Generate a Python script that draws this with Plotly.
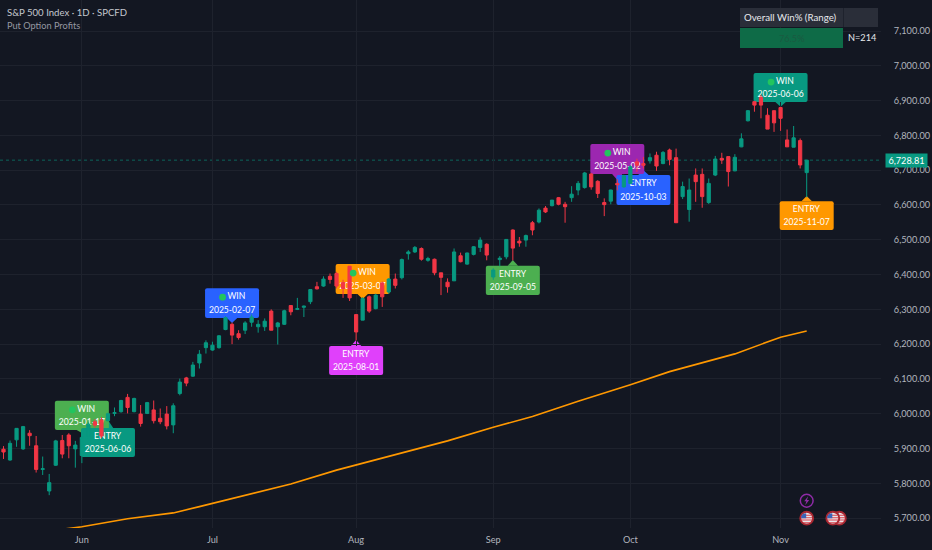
import pandas as pd
import plotly.graph_objects as go

FONT = "Lato"
BG = "#131722"
GRID = "#1e222d"
UP = "#089981"
DOWN = "#F23645"

# Trading days shown (the last few are the empty space on the right)
holidays = ["2025-05-26", "2025-06-19", "2025-07-04", "2025-09-01"]
days = [d.strftime("%Y-%m-%d") for d in pd.bdate_range("2025-05-14", "2025-11-14")
        if d.strftime("%Y-%m-%d") not in holidays]

opens = [5898,5867,5925,5899,5944,5908,5840,5778,5852,5923,5939,5899,5880,5935,5977,5982,5980,6001,6006,6047,
         6006,5999,6001,6011,5987,5999,5968,6058,6103,6108,6146,6190,6183,6190,6242,6257,6230,6240,6263,6250,
         6250,6295,6250,6257,6311,6300,6306,6322,6365,6367,6395,6403,6377,6424,6285,6269,6336,6302,6376,6350,
         6387,6391,6460,6465,6475,6441,6444,6405,6378,6382,6454,6430,6458,6478,6487,6393,6443,6451,6528,6496,
         6499,6549,6551,6591,6598,6621,6602,6621,6643,6650,6689,6668,6607,6611,6662,6652,6662,6724,6719,6727,
         6743,6719,6758,6736,6624,6587,6686,6688,6607,6686,6734,6739,6698,6767,6842,6897,6909,6858,6871,6880,
         6787,6766,6785,6693]
closes = [5890,5915,5958,5963,5937,5840,5842,5802,5922,5884,5908,5910,5932,5970,5967,5936,6000,6003,6038,6018,
          6044,5972,6032,5980,5977,5965,6023,6091,6088,6140,6171,6204,6197,6224,6276,6226,6219,6261,6278,6257,
          6266,6240,6261,6296,6293,6302,6309,6357,6359,6387,6386,6367,6360,6333,6235,6331,6295,6341,6336,6387,
          6369,6443,6465,6478,6444,6446,6405,6392,6365,6465,6437,6462,6480,6499,6456,6413,6447,6501,6476,6491,
          6512,6528,6585,6580,6614,6602,6595,6631,6662,6692,6652,6633,6601,6643,6658,6684,6710,6714,6714,6736,
          6712,6751,6731,6549,6653,6643,6667,6624,6662,6732,6729,6696,6737,6790,6871,6887,6887,6818,6836,6849,
          6767,6793,6715,6728.81]
highs = [5907,5923,5958,5965,5953,5936,5877,5827,5925,5939,5944,5922,5935,5975,5985,5990,6003,6018,6040,6057,
         6046,6025,6034,6038,6015,6022,6030,6101,6106,6149,6183,6211,6207,6226,6280,6262,6240,6266,6285,6269,
         6274,6300,6264,6299,6311,6333,6311,6357,6379,6395,6403,6408,6385,6424,6285,6335,6340,6345,6380,6390,
         6403,6446,6470,6482,6478,6451,6446,6405,6389,6475,6463,6463,6482,6507,6490,6418,6453,6501,6530,6508,
         6515,6554,6590,6597,6614,6623,6609,6654,6669,6695,6692,6671,6619,6644,6674,6687,6714,6733,6738,6748,
         6753,6755,6762,6762,6667,6676,6705,6705,6676,6741,6750,6739,6746,6806,6873,6897,6916,6878,6871,6882,
         6817,6827,6791,6728.81]
lows = [5870,5865,5905,5896,5908,5831,5824,5766,5850,5872,5872,5845,5858,5930,5960,5930,5978,5993,6003,6001,
        6004,5963,5999,5972,5970,5955,5944,6053,6079,6106,6130,6173,6181,6187,6240,6200,6213,6229,6250,6233,
        6238,6240,6199,6255,6283,6298,6278,6315,6357,6365,6374,6360,6333,6324,6211,6269,6290,6300,6307,6345,
        6360,6386,6443,6462,6440,6437,6398,6341,6348,6382,6435,6428,6455,6465,6441,6385,6424,6444,6441,6480,
        6480,6513,6547,6577,6596,6599,6549,6609,6628,6647,6644,6620,6568,6602,6642,6650,6660,6695,6705,6719,
        6698,6717,6714,6549,6617,6552,6609,6592,6603,6683,6718,6653,6697,6766,6840,6868,6849,6818,6810,6813,
        6767,6766,6705,6622]

# 200-day average, read at a handful of dates
sma_days = ["2025-05-28","2025-06-02","2025-06-11","2025-06-23","2025-06-27","2025-07-11","2025-07-18",
            "2025-07-29","2025-08-08","2025-08-21","2025-09-02","2025-09-10","2025-09-19","2025-10-01",
            "2025-10-09","2025-10-23","2025-11-03","2025-11-07"]
sma_vals = [5668,5675,5698,5715,5733,5775,5798,5838,5877,5922,5961,5992,6036,6083,6121,6172,6220,6238]

# Callout labels
label_days  = ["2025-06-02","2025-06-06","2025-07-07","2025-08-04","2025-08-01",
               "2025-09-05","2025-09-29","2025-10-03","2025-11-03","2025-11-07"]
label_kind  = ["WIN","ENTRY","WIN","WIN","ENTRY","ENTRY","WIN","ENTRY","WIN","ENTRY"]
label_dates = ["2025-01-17","2025-06-06","2025-02-07","2025-03-07","2025-08-01",
               "2025-09-05","2025-05-02","2025-10-03","2025-06-06","2025-11-07"]
label_top   = [6037,5959,6361,6430,6195,6425,6775,6686,6979,6611]
label_bot   = [5953,5876,6275,6344,6111,6341,6689,6600,6896,6528]
label_tip   = [5945,5982,6261,6330,6212,6442,6672,6700,6882,6626]
label_col   = ["#4CAF50","#089981","#2962FF","#FF9800","#E040FB",
               "#4CAF50","#9C27B0","#2962FF","#089981","#FF9800"]

ticks_x = ["2025-06-02","2025-07-01","2025-08-01","2025-09-02","2025-10-01","2025-11-03"]
ticks_x_text = ["Jun","Jul","Aug","Sep","Oct","Nov"]
ticks_y = [5700,5800,5900,6000,6100,6200,6300,6400,6500,6600,6700,6800,6900,7000,7100]
last_price = 6728.81

PLOT_W, PLOT_H = 881, 528
px = lambda v: v / PLOT_W
py = lambda v: (PLOT_H - v) / PLOT_H

heads = ["\u00a0\u00a0\u00a0\u00a0" + k if k == "WIN" else k for k in label_kind]

LABEL_SIZE = 8.6
TEXT_SIZE = 9.2

fig = go.Figure()
fig.add_bar(x=label_days, base=label_bot, y=[t - b for t, b in zip(label_top, label_bot)],
            width=8.27, marker=dict(color=label_col, line_width=0, cornerradius=2),
            text=heads, textposition="inside", insidetextanchor="end", textangle=0,
            constraintext="none", insidetextfont=dict(family=FONT, size=LABEL_SIZE, color="#ffffff"),
            cliponaxis=False, hoverinfo="skip", showlegend=False)
fig.add_bar(x=label_days, base=label_bot, y=[t - b for t, b in zip(label_top, label_bot)],
            width=8.27, marker=dict(color="rgba(0,0,0,0)", line_width=0),
            text=label_dates, textposition="inside", insidetextanchor="start", textangle=0,
            constraintext="none", insidetextfont=dict(family=FONT, size=LABEL_SIZE, color="#ffffff"),
            cliponaxis=False, hoverinfo="skip", showlegend=False)
fig.add_candlestick(x=days[:len(opens)], open=opens, high=highs, low=lows, close=closes,
                    increasing=dict(line=dict(color=UP, width=1), fillcolor=UP),
                    decreasing=dict(line=dict(color=DOWN, width=1), fillcolor=DOWN),
                    hoverinfo="skip", showlegend=False)
fig.add_scatter(x=sma_days, y=sma_vals, mode="lines", line=dict(color="#FF9800", width=1.6),
                hoverinfo="skip", showlegend=False)

shapes = []
# Callout pointers
for d, b, t, tip, c in zip(label_days, label_bot, label_top, label_tip, label_col):
    i = days.index(d)
    base = b if tip < b else t
    shapes.append(dict(type="path", layer="below", xref="x", yref="y", line_width=0, fillcolor=c,
                       path=f"M {i-0.8},{base} L {i},{tip} L {i+0.8},{base} Z"))
# Last price line
shapes.append(dict(type="line", layer="below", xref="paper", yref="y", x0=0, x1=1, opacity=0.6,
                   y0=last_price, y1=last_price, line=dict(color=UP, width=1, dash="dot")))
# Stats table
for x0, x1, y0, y1, c in [(740, 843, 8, 27, "#2a2e39"), (843.5, 878, 8, 27, "#2a2e39"),
                          (740, 843, 28, 48, "#0e6b47")]:
    shapes.append(dict(type="rect", xref="paper", yref="paper", layer="above", line_width=0, fillcolor=c,
                       x0=px(x0), x1=px(x1), y0=py(y1), y1=py(y0)))

# Calendar event icons and WIN dots
def circle(i, price, r, fill, line, lw=2, dx=0, dy=0):
    return dict(type="circle", xref="x", yref="y", xsizemode="pixel", ysizemode="pixel",
                xanchor=i, yanchor=price, x0=dx - r, x1=dx + r, y0=dy - r, y1=dy + r, fillcolor=fill,
                line=dict(color=line, width=lw), layer="above")

def pix_path(i, price, path, fill):
    return dict(type="path", xref="x", yref="y", xsizemode="pixel", ysizemode="pixel",
                xanchor=i, yanchor=price, path=path, fillcolor=fill, line_width=0, layer="above")

for d, k, t in zip(label_days, label_kind, label_top):
    if k == "WIN":
        shapes.append(circle(days.index(d), t, 3.4, "#22c55e", "#22c55e", 0, dx=-9.5, dy=-9))

flag_red = "M -4.5,3.5 L 4.5,3.5 L 5,2.4 L -5,2.4 Z M -5.5,1 L 5.5,1 L 5.5,0 L -5.5,0 Z M -5.5,-1.4 L 5.5,-1.4 L 5.5,-2.4 L -5.5,-2.4 Z M -4,-3.8 L 4,-3.8 L 3.5,-4.7 L -3.5,-4.7 Z"
flag_blue = "M -5.5,-0.2 L -0.5,-0.2 L -0.5,5 L -3.5,4.3 L -5.5,2 Z"
event_days = ["2025-11-14", "2025-11-13", "2025-11-07"]
for d in event_days:
    i = days.index(d)
    shapes.append(circle(i, 5700, 6.4, "#e8e6ea", "#a82731"))
    shapes.append(pix_path(i, 5700, flag_red, "#d9434e"))
    shapes.append(pix_path(i, 5700, flag_blue, "#3a64b8"))
i_last = days.index("2025-11-07")
shapes.append(circle(i_last, 5750, 6.4, BG, "#8e2ba6", 1.5))
shapes.append(pix_path(i_last, 5750, "M 1.5,4.5 L -2.5,-0.5 L -0.3,-0.5 L -1.5,-4.5 L 2.5,0.8 L 0.3,0.8 Z", "#8e2ba6"))

annotations = [
    dict(text="S&P 500 Index · 1D · SPCFD", xref="paper", yref="paper", x=px(4.5), y=py(12.5), xanchor="left",
         yanchor="middle", showarrow=False, font=dict(family=FONT, size=TEXT_SIZE + 0.4, color="#c4c7cf")),
    dict(text="Put Option Profits", xref="paper", yref="paper", x=px(4.5), y=py(25.5), xanchor="left",
         yanchor="middle", showarrow=False, font=dict(family=FONT, size=TEXT_SIZE, color="#9598a1")),
    dict(text="Overall Win% (Range)", xref="paper", yref="paper", x=px(742), y=py(17), xanchor="left",
         yanchor="middle", showarrow=False, font=dict(family=FONT, size=TEXT_SIZE + 0.5, color="#e8e9ed")),
    dict(text="76.5%", xref="paper", yref="paper", x=px(791.5), y=py(38), xanchor="center",
         yanchor="middle", showarrow=False, font=dict(family=FONT, size=TEXT_SIZE, color="#1a5a41")),
    dict(text="N=214", xref="paper", yref="paper", x=px(845.5), y=py(37.5), xanchor="left",
         yanchor="middle", showarrow=False, font=dict(family=FONT, size=TEXT_SIZE, color="#e8e9ed")),
    dict(text=f"{last_price:,.2f}", xref="paper", yref="y", x=px(906.5), y=last_price, xanchor="center",
         yanchor="middle", showarrow=False, bgcolor=UP, width=41, height=13, borderpad=0,
         font=dict(family=FONT, size=TEXT_SIZE, color="#ffffff")),
]

fig.update_layout(
    width=932, height=550, margin=dict(l=0, r=932 - PLOT_W, t=0, b=550 - PLOT_H, autoexpand=False),
    paper_bgcolor=BG, plot_bgcolor=BG, barmode="overlay", showlegend=False,
    shapes=shapes, annotations=annotations,
    font=dict(family=FONT, color="#b2b5be", size=TEXT_SIZE),
    xaxis=dict(type="category", categoryorder="array", categoryarray=days, automargin=False,
               range=[-0.536, (PLOT_W - 3.5) / 6.53], rangeslider=dict(visible=False),
               tickmode="array", tickvals=ticks_x, ticktext=ticks_x_text, showgrid=True, gridcolor=GRID,
               gridwidth=1, zeroline=False, showline=False, ticks="outside", ticklen=3,
               tickcolor=BG, tickfont=dict(family=FONT, size=TEXT_SIZE, color="#b2b5be")),
    yaxis=dict(side="right", automargin=False, range=[7100 - (PLOT_H - 31) * 2.874, 7100 + 31 * 2.874],
               tickmode="array", tickvals=ticks_y, tickformat=",.2f", showgrid=True, gridcolor=GRID, gridwidth=1,
               zeroline=False, showline=False, ticks="outside", ticklen=10, tickcolor=BG,
               tickfont=dict(family=FONT, size=TEXT_SIZE, color="#b2b5be")),
)

fig.write_html("out.html", config=dict(displayModeBar=False),
               post_script="document.body.style.margin='0';document.body.style.overflow='hidden';")
